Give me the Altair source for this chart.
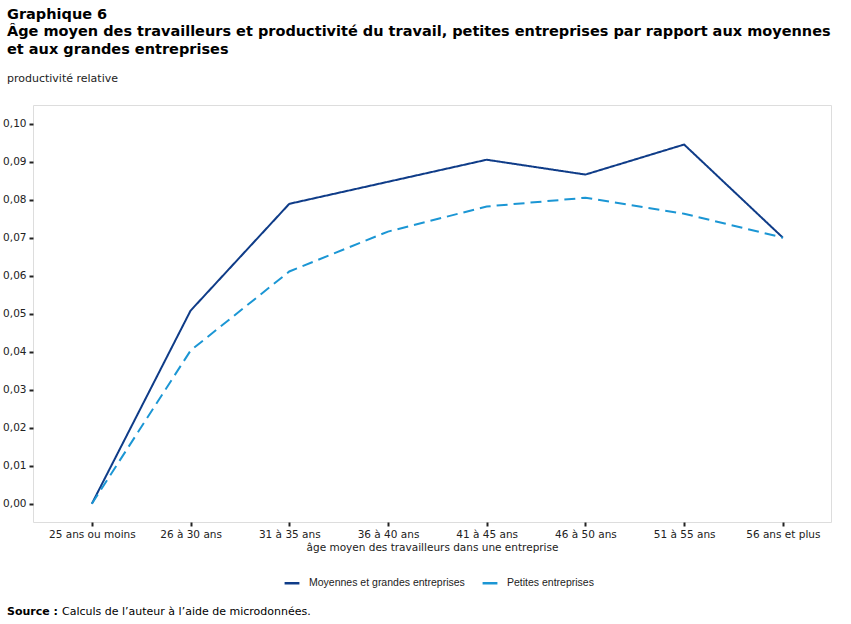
import altair as alt
import pandas as pd

categories = ["25 ans ou moins", "26 à 30 ans", "31 à 35 ans", "36 à 40 ans",
              "41 à 45 ans", "46 à 50 ans", "51 à 55 ans", "56 ans et plus"]
series_names = ["Moyennes et grandes entreprises", "Petites entreprises"]
moyennes = [0.0, 0.0508, 0.0789, 0.0847, 0.0905, 0.0866, 0.0945, 0.0700]
petites = [0.0, 0.0403, 0.0611, 0.0716, 0.0782, 0.0805, 0.0763, 0.0700]
y_ticks = [0.0, 0.01, 0.02, 0.03, 0.04, 0.05, 0.06, 0.07, 0.08, 0.09, 0.10]
colors = ["#0f3c88", "#1b96d4"]

rows = []
for i, c in enumerate(categories):
    rows.append({"cat": c, "serie": series_names[0], "val": moyennes[i], "order": i})
    rows.append({"cat": c, "serie": series_names[1], "val": petites[i], "order": i})
df = pd.DataFrame(rows)

W, H = 798, 417

x_enc = alt.X("cat:O", sort=categories,
              scale=alt.Scale(type="point", padding=0.542, align=0.55),
              axis=alt.Axis(title="âge moyen des travailleurs dans une entreprise",
                            labelAngle=0, labelFont="DejaVu Sans", labelFontSize=10.5,
                            labelColor="#222", labelPadding=3,
                            titleFont="DejaVu Sans", titleFontSize=10.5, titleFontWeight="normal",
                            titleColor="#222", titlePadding=3,
                            tickSize=4, tickColor="#222", tickWidth=2,
                            domain=False, grid=False))
y_enc = alt.Y("val:Q", scale=alt.Scale(domain=[-0.0048, 0.1049], nice=False, zero=False),
              axis=alt.Axis(title=None, values=y_ticks,
                            labelExpr="replace(format(datum.value, '.2f'), '.', ',')",
                            labelFont="DejaVu Sans", labelFontSize=10.5, labelColor="#222",
                            labelPadding=3, tickSize=4, tickColor="#222", tickWidth=2,
                            domain=False, grid=False))
color_scale = alt.Scale(domain=series_names, range=colors)

lines = alt.Chart(df).mark_line(strokeWidth=2).encode(
    x=x_enc, y=y_enc,
    color=alt.Color("serie:N", sort=series_names, scale=color_scale, legend=None),
    strokeDash=alt.StrokeDash("serie:N", sort=series_names,
                              scale=alt.Scale(domain=series_names, range=[[1, 0], [11, 6]]),
                              legend=None),
    order="order:Q",
)

legend_layer = alt.Chart(df).transform_filter("false").mark_line(strokeWidth=2.5).encode(
    x=x_enc, y=y_enc,
    color=alt.Color("serie:N", sort=series_names, scale=color_scale,
                    legend=alt.Legend(title=None, orient="none", direction="horizontal",
                                      legendX=250, legendY=469, padding=0,
                                      symbolType="stroke", symbolStrokeWidth=2.5,
                                      symbolSize=220, columnPadding=12,
                                      labelFont="Liberation Sans", labelFontSize=10.5,
                                      labelColor="#222", labelOffset=8)),
)

src_bold = alt.Chart(pd.DataFrame({"t": ["Source :"]})).mark_text(
    align="left", baseline="middle", font="DejaVu Sans", fontSize=11,
    fontWeight="bold", color="#000"
).encode(text="t:N", x=alt.value(-26), y=alt.value(507))

src_text = alt.Chart(pd.DataFrame({"t": ["Calculs de l’auteur à l’aide de microdonnées."]})).mark_text(
    align="left", baseline="middle", font="DejaVu Sans", fontSize=11, color="#000"
).encode(text="t:N", x=alt.value(29), y=alt.value(507))

chart = alt.layer(lines, legend_layer, src_bold, src_text).resolve_scale(
    color="independent", strokeDash="independent"
).properties(
    width=W, height=H,
    title=alt.Title(
        ["Graphique  6",
         "Âge moyen des travailleurs  et productivité  du travail, petites entreprises par rapport aux moyennes",
         "et aux grandes entreprises"],
        subtitle=["productivité relative"],
        anchor="start", frame="group", dx=-26, offset=20,
        font="DejaVu Sans", fontSize=14.5, fontWeight="bold", color="#000", lineHeight=17.5,
        subtitleFont="DejaVu Sans", subtitleFontSize=11, subtitleColor="#222",
        subtitlePadding=16,
    ),
    autosize=alt.AutoSizeParams(type="none"),
    padding={"left": 33, "top": 105, "right": 20, "bottom": 102},
).configure_view(stroke="#6e6e6e", strokeWidth=1.5).configure(background="white")

chart.save("out.html", embed_options={"renderer": "svg", "actions": False})
